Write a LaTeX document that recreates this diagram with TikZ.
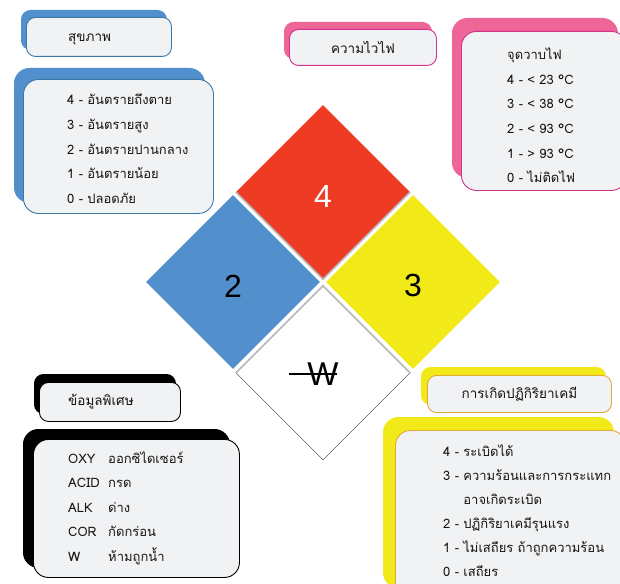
\documentclass[tikz,border=0pt]{standalone}
\usepackage{fontspec}
\setmainfont{Liberation Sans}
\newfontfamily\thaifont[Script=Thai]{Loma}
\usetikzlibrary{shapes.geometric,shadows,positioning}
\definecolor{nfpared}{RGB}{238,59,36}
\definecolor{nfpablue}{RGB}{82,144,205}
\definecolor{nfpayellow}{RGB}{242,234,24}
\definecolor{panel}{RGB}{241,242,244}
\definecolor{healthline}{RGB}{58,120,168}
\definecolor{firepink}{RGB}{238,101,152}
\definecolor{fireline}{RGB}{208,51,138}
\definecolor{reactline}{RGB}{229,168,58}
\definecolor{inkgray}{RGB}{20,20,20}

\begin{document}
\begin{tikzpicture}[x=1pt, y=-1pt,
        hazard/.style={diamond, aspect=1, minimum width=174pt, minimum height=174pt, inner sep=0pt, text height=30pt, font=\fontsize{32}{32}\selectfont},
        gapline/.style={draw=gray!55, line width=1.6pt},
        titlebox/.style={rectangle, rounded corners=9pt, fill=panel, line width=0.9pt, minimum height=39pt, anchor=north west},
        listbox/.style={rectangle, rounded corners=15pt, fill=panel, line width=0.9pt, anchor=north west},
        titletext/.style={inner sep=0pt, text=inkgray, font=\thaifont\fontsize{13.5}{16}\selectfont},
        listtext/.style={inner sep=0pt, align=left, text width=190pt, anchor=base west, text=inkgray, font=\thaifont\fontsize{13}{24.5}\selectfont}]

        \useasboundingbox (0,0) rectangle (620,583);
        \clip (0,0) rectangle (620,583);

        % hazard diamond
        \node[hazard, fill=nfpared, text=white] (fire) at (323,192) {4};
        \node[hazard, fill=nfpablue] (health) at (233,282) {2};
        \node[hazard, fill=nfpayellow] (react) at (413,282) {3};
        \node[hazard, fill=white, draw=black!80, thin] (special) at (323,373) {};
        \draw[gapline] (fire.west) -- (fire.south) -- (fire.east);
        \draw[gapline] (special.west) -- (special.north) -- (special.east);
        \node[inner sep=0pt, font=\fontsize{33}{33}\selectfont] (wsym) at (323,374) {W};
        \draw[line width=1.3pt] ([xshift=-18pt]wsym.west) -- ([xshift=-2pt]wsym.east);

        % health
        \node[titlebox, draw=healthline, minimum width=145pt,
            copy shadow={shadow xshift=-5pt, shadow yshift=7pt, fill=nfpablue, draw=nfpablue}] (healthtitle) at (26,17) {};
        \node[titletext, anchor=west] (healthhead) at ([xshift=42pt, yshift=-2pt]healthtitle.west) {สุขภาพ};
        \node[listbox, draw=healthline, minimum width=190pt, minimum height=134pt,
            copy shadow={shadow xshift=-9pt, shadow yshift=11pt, fill=nfpablue, draw=nfpablue}] (healthlist) at (23,79) {};
        \node[listtext] (healthitems) at ([xshift=44pt, yshift=-26pt]healthlist.north west)
            {4 - อันตรายถึงตาย\\3 - อันตรายสูง\\2 - อันตรายปานกลาง\\1 - อันตรายน้อย\\0 - ปลอดภัย};

        % flammability
        \node[titlebox, draw=fireline, minimum width=147pt, minimum height=36pt,
            copy shadow={shadow xshift=-5pt, shadow yshift=7pt, fill=firepink, draw=firepink}] (firetitle) at (289,29) {};
        \node[titletext] (firehead) at (firetitle.center) {ความไวไฟ};
        \node[listbox, draw=fireline, minimum width=165pt, minimum height=159pt,
            copy shadow={shadow xshift=-9pt, shadow yshift=13pt, fill=firepink, draw=firepink}] (firelist) at (461,31) {};
        \node[listtext] (fireitems) at ([xshift=46pt, yshift=-29pt]firelist.north west)
            {จุดวาบไฟ\\4 - < 23 °C\\3 - < 38 °C\\2 - < 93 °C\\1 - > 93 °C\\0 - ไม่ติดไฟ};

        % special
        \node[titlebox, draw=black, minimum width=141pt,
            copy shadow={shadow xshift=-5pt, shadow yshift=8pt, fill=black, draw=black}] (specialtitle) at (39,382) {};
        \node[titletext, anchor=west] (specialhead) at ([xshift=29pt]specialtitle.west) {ข้อมูลพิเศษ};
        \node[listbox, draw=black, minimum width=206pt, minimum height=138pt,
            copy shadow={shadow xshift=-10pt, shadow yshift=10pt, fill=black, draw=black}] (speciallist) at (33,439) {};
        \node[listtext] (specialitems) at ([xshift=35pt, yshift=-24pt]speciallist.north west)
            {\makebox[40pt][l]{OXY}ออกซิไดเซอร์\\\makebox[40pt][l]{ACID}กรด\\\makebox[40pt][l]{ALK}ด่าง\\\makebox[40pt][l]{COR}กัดกร่อน\\\makebox[40pt][l]{W}ห้ามถูกน้ำ};

        % reactivity
        \node[titlebox, draw=reactline, minimum width=184pt, minimum height=37pt,
            copy shadow={shadow xshift=-6pt, shadow yshift=8pt, fill=nfpayellow, draw=nfpayellow}] (reacttitle) at (427,375) {};
        \node[titletext] (reacthead) at (reacttitle.center) {การเกิดปฏิกิริยาเคมี};
        \node[listbox, draw=reactline, minimum width=230pt, minimum height=170pt,
            copy shadow={shadow xshift=-12pt, shadow yshift=13pt, fill=nfpayellow, draw=nfpayellow}] (reactlist) at (395,430) {};
        \node[listtext, font=\thaifont\fontsize{13}{24.1}\selectfont] (reactitems) at ([xshift=48pt, yshift=-26pt]reactlist.north west)
            {4 - ระเบิดได้\\3 - ความร้อนและการกระแทก\\\hphantom{3 - }อาจเกิดระเบิด\\2 - ปฏิกิริยาเคมีรุนแรง\\1 - ไม่เสถียร ถ้าถูกความร้อน\\0 - เสถียร};
    \end{tikzpicture}
\end{document}
